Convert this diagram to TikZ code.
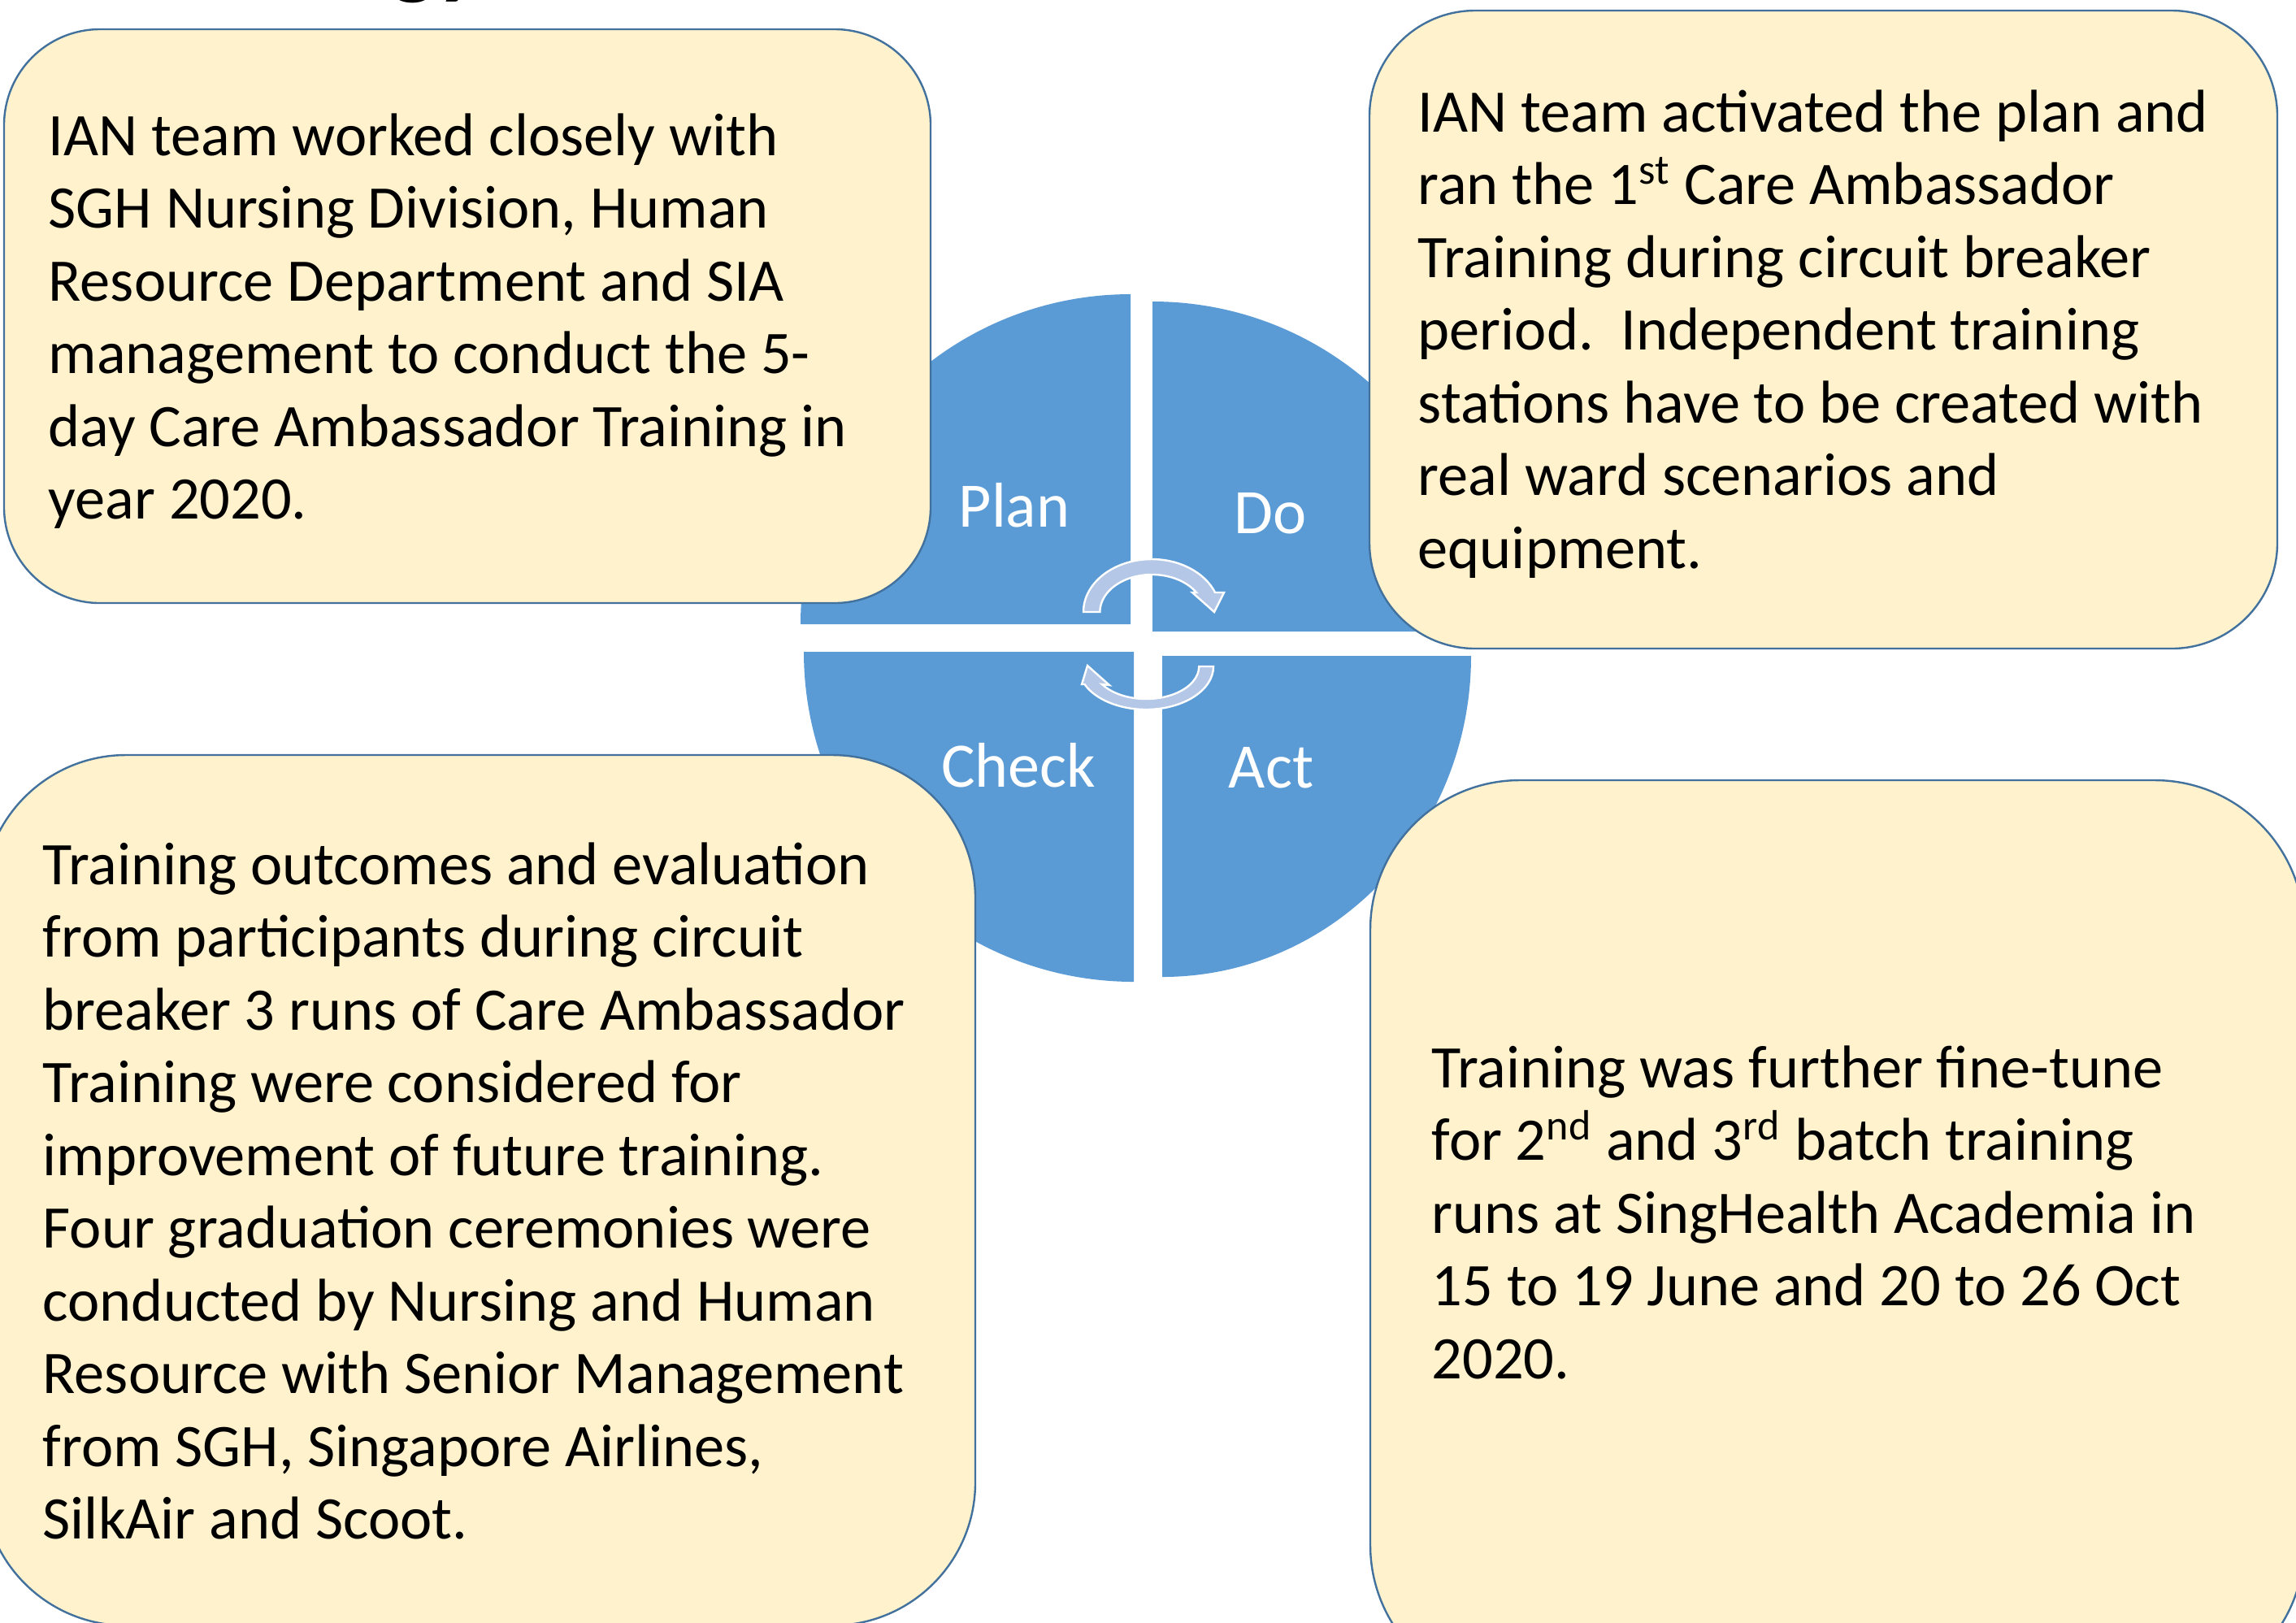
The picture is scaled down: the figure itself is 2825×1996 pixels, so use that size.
\documentclass[tikz,border=0pt]{standalone}
\usepackage{fontspec}
\setmainfont{Carlito}
\definecolor{boxfill}{HTML}{FFF2CC}
\definecolor{boxline}{HTML}{41719C}
\definecolor{quadblue}{HTML}{5B9BD5}
\definecolor{arrowfill}{HTML}{B4C7E7}
\tikzset{
  infobox/.style={draw=boxline, fill=boxfill, line width=0.6pt},
  quadrant/.style={fill=quadblue},
  cyclearrow/.style={fill=arrowfill, draw=white, line width=0.6pt, line join=miter},
  boxtext/.style={anchor=base west, align=left, inner sep=0pt, text=black,
    font=\fontsize{18.6pt}{22.375pt}\selectfont},
  quadlabel/.style={anchor=base, inner sep=0pt, text=white,
    font=\fontsize{19.5pt}{23pt}\selectfont},
}
\begin{document}
\begin{tikzpicture}[x=0.25pt, y=-0.25pt]
\useasboundingbox (0,0) rectangle (2825,1996);
\begin{scope}
\clip (0,0) rectangle (2825,1996);
% title fragment
\node[anchor=base west, inner sep=0pt, font=\fontsize{30pt}{36pt}\selectfont\bfseries] (title) at (480,-17) {gy};
% quadrants
\path[quadrant] (1391,768) -- (985,768) arc[start angle=180, end angle=270, radius=406] -- cycle;
\path[quadrant] (1418,777) -- (1418,371) arc[start angle=270, end angle=360, radius=406] -- cycle;
\path[quadrant] (1395,802) -- (1395,1208) arc[start angle=90, end angle=180, radius=406] -- cycle;
\path[quadrant] (1430,807) -- (1810,807) arc[start angle=0, end angle=90, x radius=380, y radius=395] -- cycle;
% labels
\node[quadlabel] (plan) at (1248,648) {Plan};
\node[quadlabel] (do) at (1563,656) {Do};
\node[quadlabel] (check) at (1253,968) {Check};
\node[quadlabel] (act) at (1564,969) {Act};
% cycle arrows
\draw[cyclearrow] (1333,753) arc[start angle=180, end angle=338.3, x radius=84, y radius=65]
  -- (1506,729) -- (1494,753) -- (1467,729) -- (1472,729)
  arc[start angle=328.6, end angle=180, x radius=64, y radius=46] -- cycle;
\draw[cyclearrow] (1493,820) arc[start angle=0, end angle=155.5, x radius=83, y radius=53]
  -- (1331,842) -- (1338,819) -- (1365,843) -- (1356,842)
  arc[start angle=146.6, end angle=0, x radius=65, y radius=40] -- cycle;
% boxes
\draw[infobox, rounded corners=29.5pt] (5,36) rectangle (1145,742);
\draw[infobox, rounded corners=32.5pt] (1685,13) rectangle (2802,798);
\draw[infobox, rounded corners=44pt] (-21,929) rectangle (1200,2000);
\draw[infobox, rounded corners=46pt] (1686,960) rectangle (2835,2085);
% texts (anchored at the baseline of the last line)
\node[boxtext] (tltext) at (59,638.5) {IAN team worked closely with\\
SGH Nursing Division, Human\\
Resource Department and SIA\\
management to conduct the 5-\\
day Care Ambassador Training in\\
year 2020.};
\node[boxtext] (trtext) at (1744,699) {IAN team activated the plan and\\
ran the 1\textsuperscript{st} Care Ambassador\\
Training during circuit breaker\\
period.\ \ Independent training\\
stations have to be created with\\
real ward scenarios and\\
equipment.};
\node[boxtext] (bltext) at (52,1893.5) {Training outcomes and evaluation\\
from participants during circuit\\
breaker 3 runs of Care Ambassador\\
Training were considered for\\
improvement of future training.\\
Four graduation ceremonies were\\
conducted by Nursing and Human\\
Resource with Senior Management\\
from SGH, Singapore Airlines,\\
SilkAir and Scoot.};
\node[boxtext] (brtext) at (1761,1696) {Training was further fine-tune\\
for 2\textsuperscript{nd} and 3\textsuperscript{rd} batch training\\
runs at SingHealth Academia in\\
15 to 19 June and 20 to 26 Oct\\
2020.};
\end{scope}
\end{tikzpicture}
\end{document}
